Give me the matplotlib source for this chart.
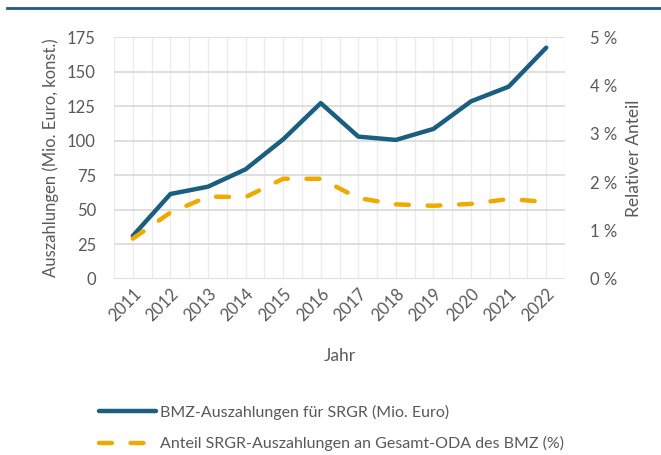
import numpy as np
import matplotlib
matplotlib.use("Agg")
import matplotlib.pyplot as plt
from matplotlib.lines import Line2D

plt.rcParams['font.family'] = ['Lato', 'DejaVu Sans']

years = ['2011', '2012', '2013', '2014', '2015', '2016',
         '2017', '2018', '2019', '2020', '2021', '2022']
# BMZ-Auszahlungen (Mio. Euro, konst.)
payments = [31, 61.4, 66.7, 79.3, 101, 127.3, 103, 100.6, 108.6, 128.6, 139.2, 167.5]
# Anteil an Gesamt-ODA des BMZ (%)
share = [0.83, 1.37, 1.70, 1.69, 2.07, 2.07, 1.67, 1.54, 1.51, 1.55, 1.65, 1.59]

blue = '#1b5f80'
gold = '#eeaa00'
grey = '#595959'
dash = (2.9, 4.2)

fig = plt.figure(figsize=(6.61, 4.55), dpi=100)
ax = fig.add_axes([0.1725, 0.3875, 0.6823, 0.5305])
ax2 = ax.twinx()

x = np.arange(len(years))
ax.plot(x, payments, color=blue, lw=3.2, solid_capstyle='round', zorder=3)
ax2.plot(x, share, color=gold, lw=3.2, dashes=dash, dash_capstyle='round', zorder=3)

ax.set_xlim(-0.5, 11.5)
ax.set_ylim(0, 175)
ax2.set_ylim(0, 5)
ax.set_yticks(np.arange(0, 176, 25))
ax2.set_yticks(np.arange(0, 6, 1))
ax2.set_yticklabels([f'{v} %' for v in range(6)])

ax.set_xticks(x)
ax.set_xticklabels(years, rotation=45, ha='right', va='top', rotation_mode='anchor')

# grid
for yv in np.arange(0, 176, 25):
    ax.axhline(yv, color='#d9d9d9', lw=1.2, zorder=1)
for xv in np.arange(-0.5, 11.6, 0.5):
    ax.axvline(xv, color='#ececec', lw=1.0, zorder=0)

for a in (ax, ax2):
    for s in a.spines.values():
        s.set_visible(False)
    a.tick_params(axis='both', which='both', length=0, labelsize=12, labelcolor=grey)
ax.tick_params(axis='x', pad=5)
ax.tick_params(axis='y', pad=13)
ax2.tick_params(axis='y', pad=18)

ax.set_xlabel('Jahr', fontsize=12.5, color=grey, labelpad=17)
ax.set_ylabel('Auszahlungen (Mio. Euro, konst.)', fontsize=12, color=grey, labelpad=6)
ax2.set_ylabel('Relativer Anteil', fontsize=12.5, color=grey, labelpad=6)

# top rule
fig.add_artist(Line2D([0.011, 1.0], [0.983, 0.983], color='#1f5a8a', lw=2))

handles = [Line2D([], [], color=blue, lw=3.2, solid_capstyle='round'),
           Line2D([], [], color=gold, lw=3.2, dashes=dash, dash_capstyle='round')]
labels = ['BMZ-Auszahlungen für SRGR (Mio. Euro)',
          'Anteil SRGR-Auszahlungen an Gesamt-ODA des BMZ (%)']
fig.legend(handles, labels, loc='upper left', bbox_to_anchor=(0.14, 0.125),
           frameon=False, fontsize=11.5, labelcolor=grey, handlelength=3.6,
           handletextpad=0.25, labelspacing=1.05, borderaxespad=0)

fig.savefig('out.png', dpi=100)
